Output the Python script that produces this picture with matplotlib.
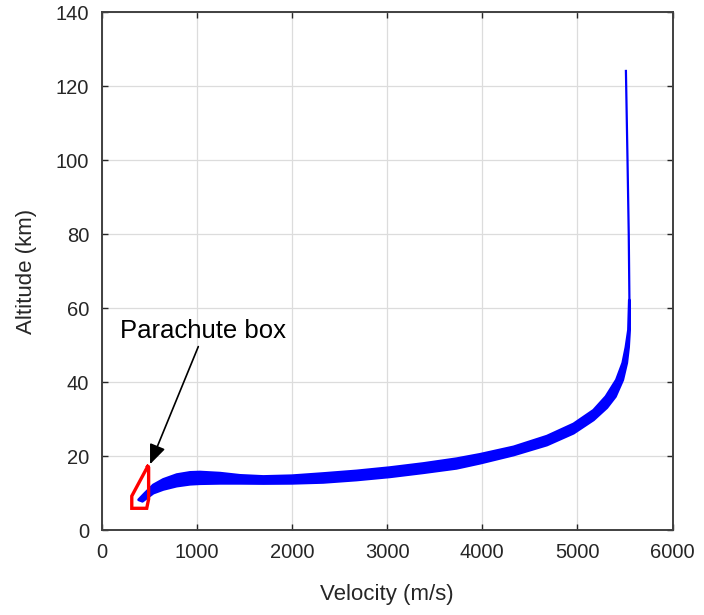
import numpy as np
import matplotlib.pyplot as plt

# upper/left edge of the trajectory band (velocity m/s, altitude km)
upper_v = [390, 457, 544, 649, 790, 930, 1035, 1245, 1455, 1700, 2000, 2330, 2680,
           3030, 3380, 3730, 3980, 4330, 4680, 4960, 5170, 5300, 5410, 5477, 5510, 5537, 5546]
upper_h = [8.3, 10.1, 12.3, 13.8, 15.1, 15.7, 15.8, 15.5, 14.9, 14.6, 14.8, 15.4, 16.1,
           17.0, 18.1, 19.4, 20.6, 22.6, 25.5, 28.8, 32.5, 36.2, 40.7, 45.3, 49.5, 54.2, 62.3]
# lower/right edge of the band
lower_v = [430, 544, 649, 790, 930, 1035, 1245, 1455, 1700, 2000, 2330, 2680, 3030,
           3380, 3730, 3980, 4330, 4680, 4960, 5170, 5310, 5400, 5477, 5519, 5538, 5549, 5548]
lower_h = [7.9, 10.1, 11.1, 12.0, 12.5, 12.65, 12.75, 12.75, 12.7, 12.75, 13.0, 13.65, 14.5,
           15.6, 16.8, 18.2, 20.4, 23.1, 26.3, 29.9, 33.2, 36.2, 40.7, 45.3, 49.5, 54.2, 62.3]
# thin upper part of the trajectory
top_v = [5547, 5540, 5527, 5510]
top_h = [62.3, 80, 100, 124.5]

# parachute box outline
box_v = [485, 318, 318, 475, 495, 495, 485]
box_h = [17.3, 9.3, 6.0, 6.0, 8.5, 17.0, 17.3]

plt.rcParams['font.family'] = ['Liberation Sans', 'DejaVu Sans']

fig = plt.figure(figsize=(7.04, 6.15), dpi=100)
ax = fig.add_axes([0.1442, 0.1374, 0.8111, 0.8423])

ax.grid(True, color='#dcdcdc', lw=0.9)
ax.set_axisbelow(True)

band_v = np.concatenate([upper_v, lower_v[::-1]])
band_h = np.concatenate([upper_h, lower_h[::-1]])
ax.fill(band_v, band_h, color='#0000ff', lw=2.0, joinstyle='round')
ax.plot(top_v, top_h, color='#0000ff', lw=1.6, solid_capstyle='butt')

ax.plot(box_v, box_h, color='#ff0000', lw=2.4, solid_joinstyle='miter')

ax.annotate('', xy=(510, 17.9), xytext=(1017, 49.7),
            arrowprops=dict(arrowstyle='-|>,head_length=0.8,head_width=0.33',
                            mutation_scale=15, color='black', lw=1.2,
                            shrinkA=0, shrinkB=0))
ax.text(194, 53.9, 'Parachute box', fontsize=18.5, ha='left', va='center')

ax.set_xlim(0, 6000)
ax.set_ylim(0, 140)
ax.set_xticks(np.arange(0, 6001, 1000))
ax.set_yticks(np.arange(0, 141, 20))
ax.tick_params(direction='in', length=4, width=1, top=True, right=True,
               labelsize=14.5, colors='#262626', pad=9)
for s in ax.spines.values():
    s.set_color('#404040')
    s.set_linewidth(1.4)

ax.set_xlabel('Velocity (m/s)', fontsize=16, color='#262626')
ax.set_ylabel('Altitude (km)', fontsize=16, color='#262626')
ax.xaxis.set_label_coords(0.5, -0.1245)
ax.xaxis.label.set_va('center')
ax.yaxis.set_label_coords(-0.1305, 0.5)
ax.yaxis.label.set_va('center')

fig.savefig('out.png', dpi=100)
